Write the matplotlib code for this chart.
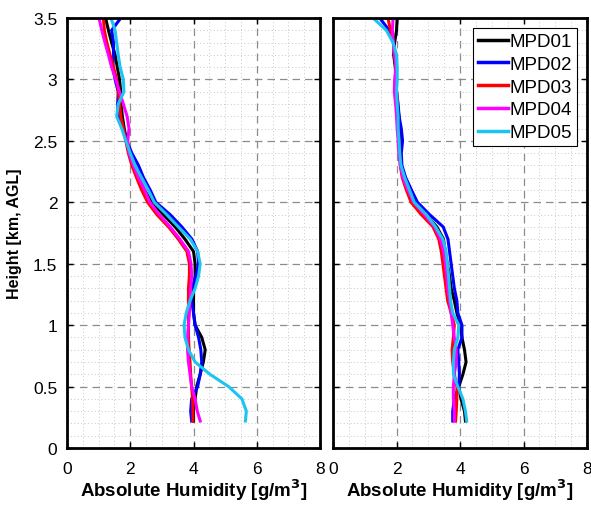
import matplotlib

matplotlib.use("Agg")
import matplotlib.pyplot as plt
from matplotlib.ticker import MultipleLocator


plt.rcParams["font.family"] = ["Liberation Sans", "DejaVu Sans"]

# heights (km AGL) shared by all profiles
HEIGHTS = [3.5, 3.4, 3.3, 3.2, 3.1, 3.0, 2.9, 2.8, 2.7, 2.6, 2.5, 2.4,
           2.3, 2.2, 2.1, 2.0, 1.9, 1.8, 1.7, 1.6, 1.5, 1.4, 1.3, 1.2,
           1.1, 1.0, 0.9, 0.8, 0.7, 0.6, 0.5, 0.4, 0.3, 0.22]

SERIES_NAMES = ["MPD01", "MPD02", "MPD03", "MPD04", "MPD05"]
SERIES_COLORS = ["#000000", "#0000ff", "#ff0000", "#ff00ff", "#1cc3f3"]

# left panel, absolute humidity [g/m^3]
LEFT_MPD01 = [1.22, 1.31, 1.41, 1.52, 1.59, 1.66, 1.70, 1.71, 1.75, 1.81, 1.89, 1.97,
              2.10, 2.26, 2.45, 2.68, 3.05, 3.42, 3.73, 4.00, 4.05, 4.05, 4.00, 4.00,
              4.00, 4.05, 4.26, 4.37, 4.31, 4.21, 4.10, 4.05, 4.00, 4.00]
LEFT_MPD02 = [1.70, 1.41, 1.47, 1.47, 1.45, 1.52, 1.62, 1.60, 1.62, 1.78, 1.89, 2.05,
              2.26, 2.42, 2.63, 2.81, 3.26, 3.63, 3.95, 4.13, 4.16, 4.08, 3.94, 3.94,
              4.00, 4.05, 4.16, 4.23, 4.26, 4.21, 4.13, 3.94, 3.91, 3.94]
LEFT_MPD03 = [1.15, 1.18, 1.26, 1.36, 1.47, 1.57, 1.62, 1.66, 1.70, 1.78, 1.86, 1.94,
              2.05, 2.20, 2.36, 2.55, 2.84, 3.21, 3.52, 3.79, 3.87, 3.87, 3.84, 3.84,
              3.84, 3.84, 3.84, 3.86, 3.89, 3.91, 3.94, 3.97, 3.98, 3.98]
LEFT_MPD04 = [1.01, 1.10, 1.20, 1.31, 1.41, 1.54, 1.66, 1.78, 1.90, 1.96, 1.92, 1.96,
              2.10, 2.26, 2.45, 2.62, 2.92, 3.26, 3.57, 3.84, 3.92, 3.94, 3.91, 3.89,
              3.87, 3.84, 3.81, 3.81, 3.84, 3.89, 3.94, 4.05, 4.12, 4.21]
LEFT_MPD05 = [1.39, 1.52, 1.57, 1.62, 1.68, 1.78, 1.80, 1.62, 1.57, 1.73, 1.86, 2.00,
              2.15, 2.36, 2.57, 2.76, 3.15, 3.52, 3.90, 4.13, 4.21, 4.16, 4.05, 3.89,
              3.77, 3.70, 3.73, 3.84, 4.05, 4.52, 5.11, 5.53, 5.67, 5.64]

# right panel
RIGHT_MPD01 = [2.02, 2.00, 1.94, 1.91, 1.96, 1.98, 2.00, 2.02, 2.08, 2.10, 2.12, 2.12,
               2.14, 2.26, 2.40, 2.58, 2.92, 3.27, 3.48, 3.53, 3.60, 3.67, 3.72, 3.82,
               3.90, 4.01, 4.06, 4.14, 4.19, 4.09, 3.96, 4.03, 4.14, 4.17]
RIGHT_MPD02 = [1.47, 1.77, 1.92, 1.95, 1.98, 1.98, 2.00, 2.05, 2.08, 2.15, 2.19, 2.15,
               2.17, 2.29, 2.47, 2.66, 3.04, 3.47, 3.62, 3.67, 3.72, 3.77, 3.82, 3.90,
               3.93, 4.06, 4.06, 3.93, 3.96, 3.98, 3.96, 3.82, 3.77, 3.77]
RIGHT_MPD03 = [1.73, 1.81, 1.90, 1.94, 1.98, 1.98, 2.00, 2.02, 2.02, 2.05, 2.08, 2.10,
               2.12, 2.18, 2.31, 2.46, 2.78, 3.15, 3.33, 3.41, 3.46, 3.51, 3.56, 3.61,
               3.72, 3.82, 3.79, 3.75, 3.77, 3.82, 3.90, 3.90, 3.88, 3.86]
RIGHT_MPD04 = [1.89, 1.87, 1.90, 1.94, 1.98, 1.94, 1.93, 1.97, 2.00, 2.02, 2.05, 2.07,
               2.12, 2.20, 2.36, 2.54, 2.88, 3.20, 3.38, 3.48, 3.54, 3.58, 3.61, 3.67,
               3.72, 3.77, 3.82, 3.88, 3.88, 3.82, 3.79, 3.79, 3.82, 3.82]
RIGHT_MPD05 = [1.26, 1.68, 1.89, 2.00, 2.02, 2.02, 2.00, 2.02, 2.05, 2.05, 2.08, 2.10,
               2.14, 2.26, 2.41, 2.56, 2.94, 3.23, 3.46, 3.56, 3.60, 3.64, 3.67, 3.70,
               3.77, 3.96, 3.93, 3.82, 3.79, 3.79, 3.93, 4.09, 4.17, 4.21]

X_TICKS = [0, 2, 4, 6, 8]
Y_TICKS = [0, 0.5, 1, 1.5, 2, 2.5, 3, 3.5]
X_LABEL = "Absolute Humidity [g/m$^\\mathbf{3}$]"
Y_LABEL = "Height [km, AGL]"


def style_axes(ax, show_ylabels):
    ax.set_xlim(0, 8)
    ax.set_ylim(0, 3.5)
    ax.set_xticks(X_TICKS)
    ax.set_yticks(Y_TICKS)
    ax.set_xticklabels([str(t) for t in X_TICKS])
    if show_ylabels:
        ax.set_yticklabels([f"{t:g}" for t in Y_TICKS])
    else:
        ax.set_yticklabels([])
    ax.xaxis.set_minor_locator(MultipleLocator(0.5))
    ax.yaxis.set_minor_locator(MultipleLocator(0.1))
    ax.grid(which="major", color="#8c8c8c", linestyle=(0, (6, 4)), linewidth=0.9)
    ax.grid(which="minor", color="#c8c8c8", linestyle=(0, (1, 2.5)), linewidth=0.7)
    ax.set_axisbelow(True)
    ax.tick_params(which="major", direction="in", length=4, width=1,
                   top=True, right=True, labelsize=12.5)
    ax.tick_params(axis="x", which="major", pad=9)
    ax.tick_params(axis="y", which="major", pad=7)
    ax.tick_params(which="minor", length=0)
    for spine in ax.spines.values():
        spine.set_linewidth(2.0)
    ax.set_xlabel(X_LABEL, fontsize=13.5, fontweight="bold", labelpad=1)


def main():
    fig = plt.figure(figsize=(5.91, 5.06), dpi=100)
    ax_left = fig.add_axes([0.1134, 0.1126, 0.4281, 0.8498])
    ax_right = fig.add_axes([0.5635, 0.1126, 0.4298, 0.8498])

    left_data = [LEFT_MPD01, LEFT_MPD02, LEFT_MPD03, LEFT_MPD04, LEFT_MPD05]
    right_data = [RIGHT_MPD01, RIGHT_MPD02, RIGHT_MPD03, RIGHT_MPD04, RIGHT_MPD05]

    for name, color, values in zip(SERIES_NAMES, SERIES_COLORS, left_data):
        ax_left.plot(values, HEIGHTS, color=color, linewidth=2.2, label=name)
    for name, color, values in zip(SERIES_NAMES, SERIES_COLORS, right_data):
        ax_right.plot(values, HEIGHTS, color=color, linewidth=2.2, label=name)

    style_axes(ax_left, True)
    style_axes(ax_right, False)
    ax_left.set_ylabel(Y_LABEL, fontsize=11.5, fontweight="bold", labelpad=8)

    leg = ax_right.legend(loc="upper right", fontsize=13.5, frameon=True, fancybox=False,
                          borderpad=0.25, labelspacing=0.3, handlelength=1.6,
                          handletextpad=0.1, borderaxespad=0.55)
    leg.get_frame().set_edgecolor("black")
    leg.get_frame().set_linewidth(0.8)
    leg.get_frame().set_alpha(1.0)
    for line in leg.get_lines():
        line.set_linewidth(2.5)

    fig.savefig("out.png", dpi=100)
    plt.close(fig)


if __name__ == "__main__":
    main()
